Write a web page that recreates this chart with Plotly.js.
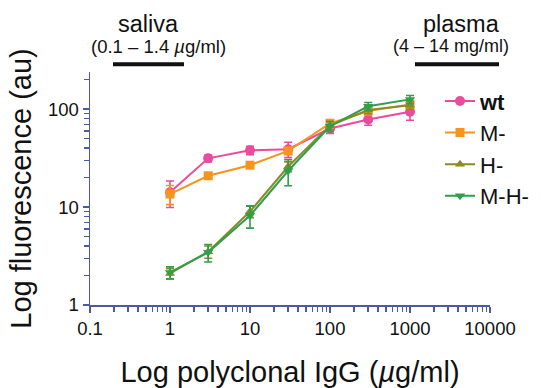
<!DOCTYPE html>
<html>
<head>
<meta charset="utf-8">
<script src="https://cdn.plot.ly/plotly-3.0.1.min.js"></script>
<style>
  html, body { margin: 0; padding: 0; background: #fff; }
  #chart { width: 541px; height: 388px; }
</style>
</head>
<body>
<div id="chart"></div>
<script>
// IgG concentrations (µg/ml)
const concentrations = [1, 3, 10, 30, 100, 300, 1000];

// Mean fluorescence (au) and error per strain
const wtValues   = [14.2, 31.5, 38, 39, 63.5, 78.5, 94];
const wtErrors   = [4.3, 2.5, 3.7, 7, 7, 10, 17];
const mValues    = [13.6, 20.9, 26.8, 37.5, 71.5, 96, 112];
const mErrors    = [3, 1, 1.2, 3, 7, 8, 10];
const hValues    = [2.1, 3.5, 9, 26, 68, 98, 110];
const hErrors    = [0.25, 0.5, 1.2, 3, 7, 8, 10];
const mhValues   = [2.15, 3.45, 8.2, 23.5, 67, 107, 126];
const mhErrors   = [0.3, 0.7, 2.1, 7, 8, 10, 12];

const seriesNames = ['<b>wt</b>', 'M-', 'H-', 'M-H-'];
const xTickVals = [0.1, 1, 10, 100, 1000, 10000];
const xTickText = ['0.1', '1', '10', '100', '1000', '10000'];
const yTickVals = [1, 10, 100];
const yTickText = ['1', '10', '100'];

const FONT = 'Liberation Sans, Arial, Helvetica, sans-serif';
const AXIS_COLOR = '#4b59a6';

function series(name, y, err, color, symbol, size) {
  return {
    type: 'scatter', mode: 'lines+markers', name: name, legendgroup: name,
    x: concentrations, y: y,
    line: { color: color, width: 2 },
    marker: { color: color, symbol: symbol, size: size },
    error_y: { type: 'data', array: err, visible: true, color: color, thickness: 1.6, width: 4 }
  };
}

const traces = [
  series(seriesNames[0], wtValues, wtErrors, '#ec4a9c', 'circle', 10),
  series(seriesNames[1], mValues, mErrors, '#f7941e', 'square', 9),
  series(seriesNames[2], hValues, hErrors, '#8c8a24', 'triangle-up', 9),
  series(seriesNames[3], mhValues, mhErrors, '#2f9e4d', 'triangle-down', 9)
];

const layout = {
  width: 541, height: 388,
  margin: { l: 90, r: 51, t: 72, b: 83, autoexpand: false },
  paper_bgcolor: '#fff', plot_bgcolor: 'rgba(0,0,0,0)',
  font: { family: FONT, color: '#111', size: 18 },
  showlegend: true,
  legend: {
    x: 0.875, y: 0.965, xanchor: 'left', yanchor: 'top',
    font: { size: 22, family: FONT, color: '#111' },
    tracegroupgap: 0, bgcolor: 'rgba(0,0,0,0)', itemwidth: 30
  },
  xaxis: {
    type: 'log', range: [-1, 4],
    showgrid: false, zeroline: false,
    showline: true, linecolor: AXIS_COLOR, linewidth: 1.5,
    ticks: 'outside', ticklen: 6, tickwidth: 1.5, tickcolor: AXIS_COLOR,
    tickvals: xTickVals, ticktext: xTickText,
    tickfont: { size: 18.5, family: FONT, color: '#111' },
    minor: { ticks: 'outside', ticklen: 5, tickwidth: 1.5, tickcolor: AXIS_COLOR, dtick: 'D1', showgrid: false },
    title: { text: 'Log polyclonal IgG (<i>µ</i>g/ml)', font: { size: 29, family: FONT, color: '#111' }, standoff: 24 }
  },
  yaxis: {
    type: 'log', range: [0, 2.38],
    showgrid: false, zeroline: false,
    showline: true, linecolor: AXIS_COLOR, linewidth: 1.5,
    ticks: 'outside', ticklen: 6, tickwidth: 1.5, tickcolor: AXIS_COLOR,
    tickvals: yTickVals, ticktext: yTickText,
    tickfont: { size: 18.5, family: FONT, color: '#111' },
    minor: { ticks: 'outside', ticklen: 5, tickwidth: 1.5, tickcolor: AXIS_COLOR, dtick: 'D1', showgrid: false },
    title: { text: 'Log fluorescence (au)', font: { size: 29, family: FONT, color: '#111' }, standoff: 8 }
  },
  annotations: [
    { text: 'saliva', xref: 'paper', yref: 'paper', x: 0.145, y: 1.205, xanchor: 'center', yanchor: 'middle', showarrow: false, font: { size: 23.5, family: FONT, color: '#111' } },
    { text: '(0.1 – 1.4 <i>µ</i>g/ml)', xref: 'paper', yref: 'paper', x: 0.172, y: 1.11, xanchor: 'center', yanchor: 'middle', showarrow: false, font: { size: 18.5, family: FONT, color: '#111' } },
    { text: 'plasma', xref: 'paper', yref: 'paper', x: 0.928, y: 1.205, xanchor: 'center', yanchor: 'middle', showarrow: false, font: { size: 23.5, family: FONT, color: '#111' } },
    { text: '(4 – 14 mg/ml)', xref: 'paper', yref: 'paper', x: 0.903, y: 1.11, xanchor: 'center', yanchor: 'middle', showarrow: false, font: { size: 18, family: FONT, color: '#111' } }
  ],
  shapes: [
    { type: 'line', xref: 'paper', yref: 'paper', x0: 0.0575, x1: 0.235, y0: 1.033, y1: 1.033, line: { color: '#111', width: 4 } },
    { type: 'line', xref: 'paper', yref: 'paper', x0: 0.8125, x1: 1.0225, y0: 1.033, y1: 1.033, line: { color: '#111', width: 4 } }
  ]
};

Plotly.newPlot('chart', traces, layout, { displayModeBar: false, staticPlot: true });
</script>
</body>
</html>
